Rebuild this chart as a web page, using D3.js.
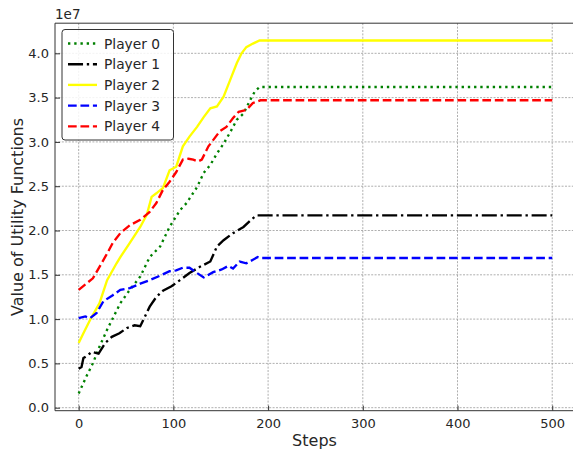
<!DOCTYPE html>
<html>
<head>
<meta charset="utf-8">
<script src="https://cdn.jsdelivr.net/npm/d3@7"></script>
<style>
  body { margin: 0; background: #fff; }
  svg { display: block; font-family: "DejaVu Sans", sans-serif; }
</style>
</head>
<body>
<div id="chart"></div>
<script>
// Values, in units of 1e7, as [step, value]
const player0 = [[0,0.16],[8,0.35],[15,0.50],[22,0.69],[30,0.88],[37,1.03],[44,1.18],[54,1.33],[65,1.48],[75,1.70],[86,1.82],[96,2.04],[103,2.16],[107,2.23],[114,2.31],[125,2.49],[132,2.65],[139,2.74],[146,2.87],[153,2.98],[160,3.11],[167,3.25],[174,3.32],[181,3.47],[186,3.57],[191,3.62],[500,3.62]];
const player1 = [[0,0.44],[3,0.46],[5,0.56],[8,0.58],[14,0.63],[21,0.61],[28,0.73],[35,0.80],[43,0.84],[51,0.90],[59,0.93],[65,0.92],[70,1.03],[75,1.14],[82,1.25],[89,1.32],[98,1.37],[107,1.44],[117,1.52],[128,1.59],[139,1.65],[146,1.82],[153,1.89],[163,1.97],[174,2.04],[183,2.13],[188,2.17],[500,2.17]];
const player2 = [[0,0.73],[5,0.84],[12,0.99],[22,1.18],[30,1.44],[40,1.63],[44,1.70],[54,1.86],[65,2.04],[72,2.18],[77,2.38],[82,2.42],[89,2.48],[96,2.68],[103,2.72],[110,2.95],[117,3.06],[125,3.17],[132,3.28],[139,3.38],[146,3.40],[153,3.51],[160,3.70],[167,3.89],[172,4.00],[177,4.07],[184,4.11],[191,4.145],[500,4.145]];
const player3 = [[0,1.01],[7,1.03],[12,1.01],[19,1.07],[26,1.20],[36,1.27],[44,1.33],[54,1.35],[65,1.40],[75,1.44],[86,1.49],[96,1.54],[103,1.55],[110,1.58],[117,1.58],[125,1.52],[132,1.47],[142,1.53],[151,1.56],[158,1.60],[163,1.57],[170,1.65],[177,1.63],[184,1.67],[189,1.70],[192,1.69],[500,1.69]];
const player4 = [[0,1.33],[8,1.40],[15,1.46],[22,1.59],[30,1.74],[36,1.86],[44,1.97],[54,2.06],[65,2.12],[75,2.21],[82,2.31],[89,2.46],[96,2.55],[103,2.66],[110,2.80],[116,2.81],[121,2.80],[126,2.78],[130,2.80],[137,2.95],[149,3.12],[156,3.17],[163,3.27],[169,3.34],[177,3.36],[184,3.44],[192,3.47],[500,3.47]];

const xTicks = [0, 100, 200, 300, 400, 500];
const yTicks = [0, 0.5, 1.0, 1.5, 2.0, 2.5, 3.0, 3.5, 4.0];

// matplotlib-like dash patterns, scaled by line width
const lw = 2.35;
const dashes = {
  dotted:  [1, 1.65].map(v => v * lw).join(","),
  dashdot: [6.4, 1.6, 1, 1.6].map(v => v * lw).join(","),
  dashed:  [3.7, 1.6].map(v => v * lw).join(",")
};

const series = [
  {name: "Player 0", data: player0, color: "green",  dash: dashes.dotted},
  {name: "Player 1", data: player1, color: "black",  dash: dashes.dashdot},
  {name: "Player 2", data: player2, color: "yellow", dash: null},
  {name: "Player 3", data: player3, color: "blue",   dash: dashes.dashed},
  {name: "Player 4", data: player4, color: "red",    dash: dashes.dashed}
];

const W = 573, H = 450;
const textCol = "#262626";

const svg = d3.select("#chart").append("svg")
  .attr("width", W).attr("height", H);

// axes box: left 55, top 23.2, bottom 410.7; right side runs past the picture
const x = d3.scaleLinear().domain([-25, 525]).range([55, 575.9]);
const y = d3.scaleLinear().domain([-0.034, 4.34]).range([410.7, 23.2]);

const axLeft = x.range()[0], axRight = x.range()[1];
const axTop = y.range()[1], axBottom = y.range()[0];

// grid
const grid = svg.append("g")
  .attr("stroke", "#9a9a9a").attr("stroke-width", 0.8).attr("stroke-dasharray", "2,1.4");
grid.selectAll(".gx").data(xTicks).join("line")
  .attr("x1", d => x(d)).attr("x2", d => x(d)).attr("y1", axTop).attr("y2", axBottom);
grid.selectAll(".gy").data(yTicks).join("line")
  .attr("y1", d => y(d)).attr("y2", d => y(d)).attr("x1", axLeft).attr("x2", axRight);

// lines
const line = d3.line().x(d => x(d[0])).y(d => y(d[1]));
svg.append("g").selectAll("path")
  .data(series)
  .join("path")
    .attr("d", d => line(d.data))
    .attr("fill", "none")
    .attr("stroke", d => d.color)
    .attr("stroke-width", lw)
    .attr("stroke-dasharray", d => d.dash);

// spines
svg.append("path")
  .attr("d", `M${axRight},${axTop}H${axLeft}V${axBottom}H${axRight}`)
  .attr("fill", "none").attr("stroke", "#333").attr("stroke-width", 1);

// axes with inward ticks
const xAxis = svg.append("g").attr("transform", `translate(0,${axBottom})`)
  .call(d3.axisBottom(x).tickValues(xTicks).tickSize(-5).tickPadding(8).tickFormat(d3.format("d")));
const yAxis = svg.append("g").attr("transform", `translate(${axLeft},0)`)
  .call(d3.axisLeft(y).tickValues(yTicks).tickSize(-5).tickPadding(6).tickFormat(d3.format(".1f")));
[xAxis, yAxis].forEach(a => {
  a.select(".domain").remove();
  a.selectAll(".tick line").attr("stroke", "#333");
  a.selectAll(".tick text").attr("fill", textCol).style("font-size", "13px")
    .style("font-family", "DejaVu Sans");
});

// offset text and labels
svg.append("text").attr("x", 55).attr("y", 19).attr("fill", textCol)
  .style("font-size", "13.5px").text("1e7");
svg.append("text").attr("x", (55 + 573) / 2 + 0.5).attr("y", 446).attr("text-anchor", "middle")
  .attr("fill", textCol).style("font-size", "16px").text("Steps");
svg.append("text").attr("transform", `translate(22.5,${(axTop + axBottom) / 2}) rotate(-90)`)
  .attr("text-anchor", "middle").attr("fill", textCol).style("font-size", "16px")
  .text("Value of Utility Functions");

// legend
const lg = svg.append("g").attr("transform", "translate(62,29.5)");
lg.append("rect").attr("width", 111.5).attr("height", 110.5).attr("rx", 3)
  .attr("fill", "white").attr("fill-opacity", 0.85).attr("stroke", "#333").attr("stroke-width", 1);
const items = lg.selectAll(".item").data(series).join("g")
  .attr("transform", (d, i) => `translate(0,${14 + i * 20.7})`);
items.append("line").attr("x1", 6).attr("x2", 35)
  .attr("stroke", d => d.color).attr("stroke-width", lw).attr("stroke-dasharray", d => d.dash);
items.append("text").attr("x", 42).attr("y", 5).attr("fill", textCol)
  .style("font-size", "13.8px").text(d => d.name);
</script>
</body>
</html>
